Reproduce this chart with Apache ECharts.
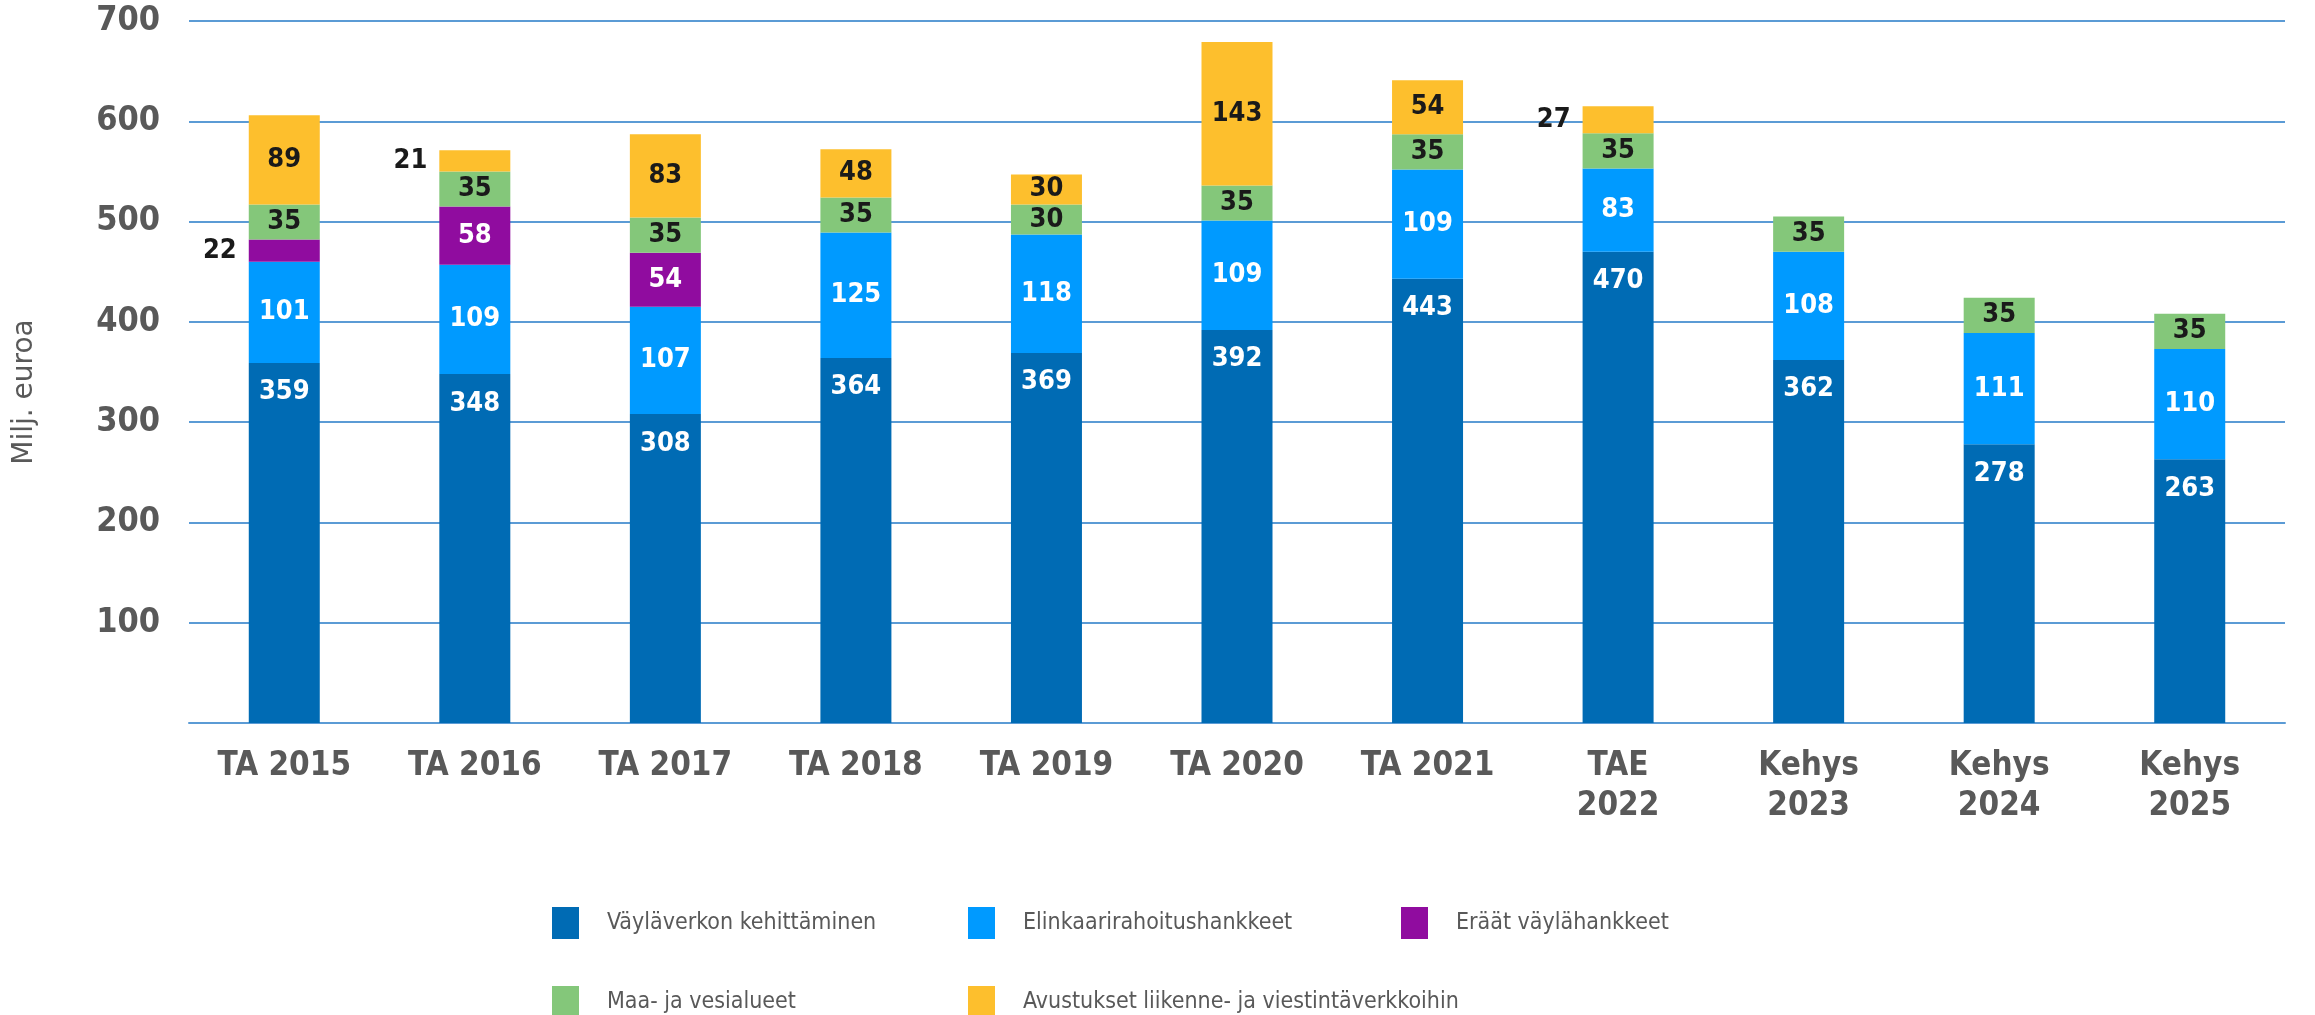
<!DOCTYPE html>
<html>
<head>
<meta charset="utf-8">
<script src="https://cdn.jsdelivr.net/npm/echarts@6/dist/echarts.min.js"></script>
<style>
  html, body { margin: 0; padding: 0; background: #fff; }
  #main { width: 2315px; height: 1015px; }
</style>
</head>
<body>
<div id="main"></div>
<script>
const categories = ['TA 2015', 'TA 2016', 'TA 2017', 'TA 2018', 'TA 2019', 'TA 2020', 'TA 2021', 'TAE\n2022', 'Kehys\n2023', 'Kehys\n2024', 'Kehys\n2025'];
const kehittaminen = [359, 348, 308, 364, 369, 392, 443, 470, 362, 278, 263];
const elinkaari = [101, 109, 107, 125, 118, 109, 109, 83, 108, 111, 110];
const eraat = [22, 58, 54, null, null, null, null, null, null, null, null];
const maaVesi = [35, 35, 35, 35, 30, 35, 35, 35, 35, 35, 35];
const avustukset = [89, 21, 83, 48, 30, 143, 54, 27, null, null, null];
const yTicks = [0, 100, 200, 300, 400, 500, 600, 700];

const boldFont = '"DejaVu Sans Condensed", "DejaVu Sans", sans-serif';
const gray = '#595959';

const chart = echarts.init(document.getElementById('main'));

function makeSeries(name, values, color, textColor, labelPos) {
  return {
    name: name,
    type: 'bar',
    stack: 'total',
    barWidth: 71,
    itemStyle: { color: color },
    data: values.map(v => {
      if (v != null && v < 30) {
        // small segments get their label beside the bar
        return { value: v, label: { position: 'left', distance: 12, color: '#1a1a1a' } };
      }
      return v;
    }),
    label: {
      show: true,
      position: labelPos,
      distance: 16,
      color: textColor,
      fontFamily: boldFont,
      fontWeight: 'bold',
      fontSize: 27
    }
  };
}

function legendAt(name, left, top) {
  return {
    data: [name],
    left: left,
    top: top,
    itemWidth: 27,
    itemHeight: 32,
    icon: 'rect',
    selectedMode: false,
    textStyle: {
      color: gray,
      fontFamily: '"DejaVu Sans Condensed", "DejaVu Sans", sans-serif',
      fontSize: 23,
      padding: [0, 0, 0, 23]
    }
  };
}

const options = {
  animation: false,
  legend: [
    legendAt('Väyläverkon kehittäminen', 547, 902),
    legendAt('Elinkaarirahoitushankkeet', 963, 902),
    legendAt('Eräät väylähankkeet', 1396, 902),
    legendAt('Maa- ja vesialueet', 547, 981),
    legendAt('Avustukset liikenne- ja viestintäverkkoihin', 963, 981)
  ],
  grid: { left: 189, right: 30, top: 21, bottom: 292 },
  xAxis: {
    type: 'category',
    data: categories,
    axisTick: { show: false },
    axisLine: { lineStyle: { color: '#5b9bd5', width: 2 } },
    axisLabel: {
      color: gray,
      fontFamily: boldFont,
      fontWeight: 'bold',
      fontSize: 33,
      lineHeight: 40,
      margin: 23
    }
  },
  yAxis: {
    type: 'value',
    min: yTicks[0],
    max: yTicks[yTicks.length - 1],
    interval: 100,
    name: 'Milj. euroa',
    nameLocation: 'middle',
    nameGap: 150,
    nameRotate: 90,
    nameTextStyle: {
      color: gray,
      fontFamily: '"DejaVu Sans", sans-serif',
      fontSize: 28,
      padding: [0, 40, 0, 0]
    },
    axisLine: { show: false },
    axisTick: { show: false },
    splitLine: { lineStyle: { color: '#5b9bd5', width: 2 } },
    axisLabel: {
      color: gray,
      fontFamily: boldFont,
      fontWeight: 'bold',
      fontSize: 34,
      margin: 29,
      formatter: v => (v === 0 ? '' : String(v))
    }
  },
  series: [
    makeSeries('Väyläverkon kehittäminen', kehittaminen, '#006bb4', '#ffffff', 'insideTop'),
    makeSeries('Elinkaarirahoitushankkeet', elinkaari, '#009aff', '#ffffff', 'inside'),
    makeSeries('Eräät väylähankkeet', eraat, '#900c9f', '#ffffff', 'inside'),
    makeSeries('Maa- ja vesialueet', maaVesi, '#84c77a', '#1a1a1a', 'inside'),
    makeSeries('Avustukset liikenne- ja viestintäverkkoihin', avustukset, '#fdbf2d', '#1a1a1a', 'inside')
  ]
};

chart.setOption(options);
</script>
</body>
</html>
